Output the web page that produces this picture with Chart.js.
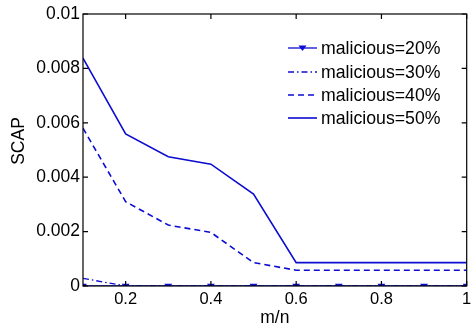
<!DOCTYPE html>
<html><head><meta charset="utf-8">
<style>html,body{margin:0;padding:0;background:#fff;}#wrap{width:472px;height:332px;}</style>
<script src="https://cdn.jsdelivr.net/npm/chart.js@4/dist/chart.umd.min.js"></script>
</head><body><div id="wrap"><canvas id="c" width="472" height="332"></canvas></div>
<script>
const xValues = [0.1,0.2,0.3,0.4,0.5,0.6,0.7,0.8,0.9,1.0];
const mal20 = [0,0,0,0,0,0,0,0,0,0];
const mal30 = [0.00028,0,0,0,0,0,0,0,0,0];
const mal40 = [0.0058,0.0031,0.00224,0.00197,0.00086,0.00058,0.00058,0.00058,0.00058,0.00058];
const mal50 = [0.00838,0.00559,0.00475,0.00448,0.00338,0.00086,0.00086,0.00086,0.00086,0.00086];
const seriesNames = ['malicious=20%','malicious=30%','malicious=40%','malicious=50%'];
const xTicks = [0.2,0.4,0.6,0.8,1];
const xTickLabels = ['0.2','0.4','0.6','0.8','1'];
const yTicks = [0,0.002,0.004,0.006,0.008,0.01];
const yTickLabels = ['0','0.002','0.004','0.006','0.008','0.01'];
const xTitle = 'm/n', yTitle = 'SCAP';

const BLUE = '#0c0cd2';
const FONT = "'Liberation Sans', Arial, sans-serif";
const pts = arr => arr.map((v,i)=>({x:xValues[i], y:v}));

const datasets = [
  {label:seriesNames[0], data:pts(mal20), borderColor:BLUE, backgroundColor:BLUE, borderWidth:1.3, pointStyle:'triangle', rotation:180, pointRadius:3.2, borderDash:[]},
  {label:seriesNames[1], data:pts(mal30), borderColor:BLUE, borderWidth:1.3, pointRadius:0, borderDash:[6,3,1.5,3]},
  {label:seriesNames[2], data:pts(mal40), borderColor:BLUE, borderWidth:1.6, pointRadius:0, borderDash:[6,4]},
  {label:seriesNames[3], data:pts(mal50), borderColor:BLUE, borderWidth:1.6, pointRadius:0, borderDash:[]}
];

const framePlugin = {
  id:'frame',
  afterDraw(chart){
    const {ctx, chartArea:a, scales:{x,y}} = chart;
    ctx.save();
    ctx.strokeStyle = '#000'; ctx.lineWidth = 1.2;
    ctx.strokeRect(a.left, a.top, a.right-a.left, a.bottom-a.top);
    const L = 5;
    ctx.beginPath();
    xTicks.forEach(v=>{const px=x.getPixelForValue(v); ctx.moveTo(px,a.bottom); ctx.lineTo(px,a.bottom-L); ctx.moveTo(px,a.top); ctx.lineTo(px,a.top+L);});
    yTicks.forEach(v=>{const py=y.getPixelForValue(v); ctx.moveTo(a.left,py); ctx.lineTo(a.left+L,py); ctx.moveTo(a.right,py); ctx.lineTo(a.right-L,py);});
    ctx.stroke();
    // axis titles
    ctx.fillStyle = '#000';
    ctx.font = '17.5px ' + FONT;
    ctx.textAlign = 'center'; ctx.textBaseline = 'middle';
    ctx.fillText(xTitle, (a.left+a.right)/2, 318);
    ctx.save(); ctx.translate(19, 141); ctx.rotate(-Math.PI/2); ctx.fillText(yTitle, 0, 0); ctx.restore();
    // legend
    const ys = [48,72,95,118];
    ctx.font = '17.7px ' + FONT;
    ctx.textAlign = 'left'; ctx.textBaseline = 'middle';
    chart.data.datasets.forEach((ds,i)=>{
      const yy = ys[i];
      ctx.strokeStyle = ds.borderColor; ctx.lineWidth = ds.borderWidth;
      ctx.setLineDash(ds.borderDash||[]);
      ctx.beginPath(); ctx.moveTo(288,yy); ctx.lineTo(317,yy); ctx.stroke();
      ctx.setLineDash([]);
      if (ds.pointRadius>0){
        ctx.fillStyle = ds.borderColor;
        ctx.beginPath(); ctx.moveTo(298.5,yy-2.5); ctx.lineTo(306.5,yy-2.5); ctx.lineTo(302.5,yy+3); ctx.closePath(); ctx.fill();
      }
      ctx.fillStyle = '#000';
      ctx.fillText(ds.label, 321, yy+1);
    });
    ctx.restore();
  }
};

new Chart(document.getElementById('c'), {
  type:'line',
  data:{datasets},
  options:{
    responsive:false, animation:false, devicePixelRatio:1,
    layout:{padding:{top:14,right:1,left:0,bottom:0}},
    plugins:{legend:{display:false}, tooltip:{enabled:false}},
    elements:{line:{tension:0}},
    scales:{
      x:{type:'linear', min:0.1, max:1,
        afterBuildTicks:s=>{s.ticks = xTicks.map(v=>({value:v}));},
        ticks:{autoSkip:false, maxRotation:0, padding:4, color:'#000', font:{family:FONT,size:16.5},
          callback:(v)=>{const i=xTicks.indexOf(v); return i>=0?xTickLabels[i]:'';}},
        grid:{display:false, drawTicks:false}, border:{display:false},
        afterFit:s=>{s.height=46; s.paddingLeft=0; s.paddingRight=0;}
      },
      y:{type:'linear', min:0, max:0.01,
        afterBuildTicks:s=>{s.ticks = yTicks.map(v=>({value:v}));},
        ticks:{autoSkip:false, padding:3, color:'#000', font:{family:FONT,size:17.5},
          callback:(v)=>{const i=yTicks.indexOf(v); return i>=0?yTickLabels[i]:'';}},
        grid:{display:false, drawTicks:false}, border:{display:false},
        afterFit:s=>{s.width=83; s.paddingTop=0; s.paddingBottom=0;}
      }
    }
  },
  plugins:[framePlugin]
});
</script></body></html>
